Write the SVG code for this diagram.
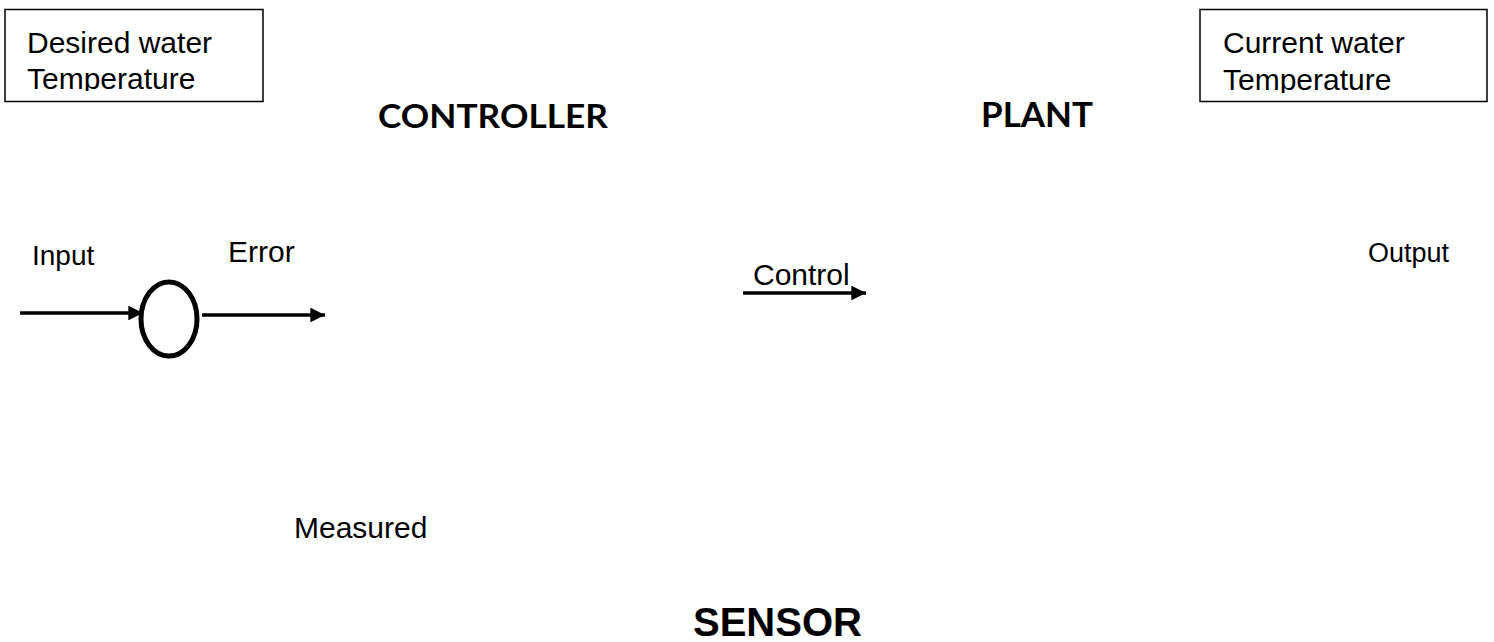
<svg xmlns="http://www.w3.org/2000/svg" width="1494" height="642" viewBox="0 0 1494 642">
<style>
.t{font-family:"Liberation Sans",Arial,sans-serif;fill:#000}
.hb{font-family:Lato,"Open Sans",sans-serif;font-weight:700;fill:#000}
.box{fill:#fff;stroke:#000;stroke-width:1.5}
.ln{stroke:#000;stroke-width:3.5;fill:none}
</style>
<defs>
<marker id="ah" viewBox="0 0 10 10" refX="10" refY="5" markerWidth="4.2" markerHeight="4.2" markerUnits="strokeWidth" orient="auto">
<path d="M0,0 L10,5 L0,10 Z" fill="#000"/>
</marker>
<clipPath id="c1"><rect x="5" y="9" width="259" height="82"/></clipPath>
<clipPath id="c2"><rect x="1200" y="9" width="287" height="84"/></clipPath>
</defs>
<rect width="1494" height="642" fill="#fff"/>
<g id="desired">
<rect class="box" x="5" y="9.5" width="258" height="92"/>
<g clip-path="url(#c1)">
<text class="t" x="27" y="53" font-size="30">Desired water</text>
<text class="t" x="27" y="89" font-size="30">Temperature</text>
</g>
</g>
<g id="current">
<rect class="box" x="1200" y="9.5" width="287" height="92"/>
<g clip-path="url(#c2)">
<text class="t" x="1223" y="53" font-size="30">Current water</text>
<text class="t" x="1223" y="90" font-size="30">Temperature</text>
</g>
</g>
<g id="controller">
<text class="hb" x="378" y="128" font-size="33" textLength="230" lengthAdjust="spacingAndGlyphs">CONTROLLER</text>
</g>
<g id="plant">
<text class="hb" x="981" y="127" font-size="34" textLength="112" lengthAdjust="spacingAndGlyphs">PLANT</text>
</g>
<g id="sensor">
<text class="t" x="693" y="636" font-size="40" font-weight="700">SENSOR</text>
</g>
<g id="summing">
<ellipse cx="169" cy="319" rx="28" ry="37" fill="none" stroke="#000" stroke-width="5"/>
</g>
<g id="labels">
<text class="t" x="32" y="265" font-size="28">Input</text>
<text class="t" x="228" y="262" font-size="30">Error</text>
<text class="t" x="753" y="285" font-size="30">Control</text>
<text class="t" x="1368" y="262" font-size="27">Output</text>
<text class="t" x="294" y="538" font-size="30">Measured</text>
</g>
<g id="connectors">
<line class="ln" x1="20" y1="313" x2="143" y2="313" marker-end="url(#ah)"/>
<line class="ln" x1="202" y1="315" x2="325" y2="315" marker-end="url(#ah)"/>
<line class="ln" x1="743" y1="293" x2="866" y2="293" marker-end="url(#ah)"/>
</g>
</svg>
